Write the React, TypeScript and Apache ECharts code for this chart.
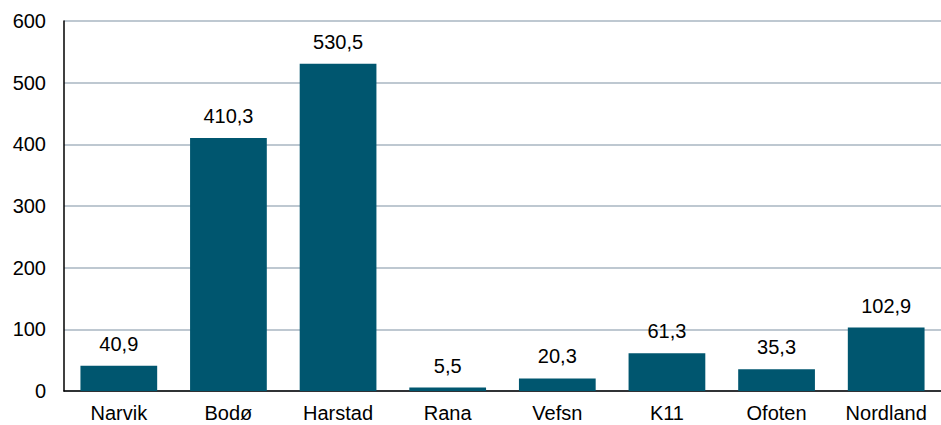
import React, { useEffect, useRef } from "react";
import * as echarts from "echarts";

const categories = ["Narvik", "Bodø", "Harstad", "Rana", "Vefsn", "K11", "Ofoten", "Nordland"];
const values = [40.9, 410.3, 530.5, 5.5, 20.3, 61.3, 35.3, 102.9];

const FONT = "'Liberation Sans', Arial, sans-serif";

export default function App() {
  const ref = useRef<HTMLDivElement>(null);
  useEffect(() => {
    const chart = echarts.init(ref.current!, null, { renderer: "svg" });
    chart.setOption({
      animation: false,
      textStyle: { fontFamily: FONT },
      grid: { left: 64, width: 883, top: 21, bottom: 34, containLabel: false },
      xAxis: {
        type: "category",
        data: categories,
        axisLine: { lineStyle: { color: "#000", width: 1.5 } },
        axisTick: { show: false },
        axisLabel: { color: "#000", fontSize: 20, margin: 12, interval: 0, fontFamily: FONT },
      },
      yAxis: {
        type: "value",
        min: 0,
        max: 600,
        interval: 100,
        axisLine: { show: true, lineStyle: { color: "#000", width: 1.5 } },
        axisTick: { show: false },
        axisLabel: { color: "#000", fontSize: 20, margin: 18, fontFamily: FONT },
        splitLine: { lineStyle: { color: "#A9B6C2", width: 1.5 } },
      },
      series: [
        {
          type: "bar",
          data: values,
          barCategoryGap: "30%",
          itemStyle: { color: "#00566F" },
          label: {
            show: true,
            position: "top",
            distance: 12,
            color: "#000",
            fontSize: 20,
            fontFamily: FONT,
            formatter: (p: any) => p.value.toFixed(1).replace(".", ","),
          },
        },
      ],
    });
    return () => chart.dispose();
  }, []);
  return <div ref={ref} style={{ width: 941, height: 425, position: "absolute", left: 0, top: 0 }} />;
}
